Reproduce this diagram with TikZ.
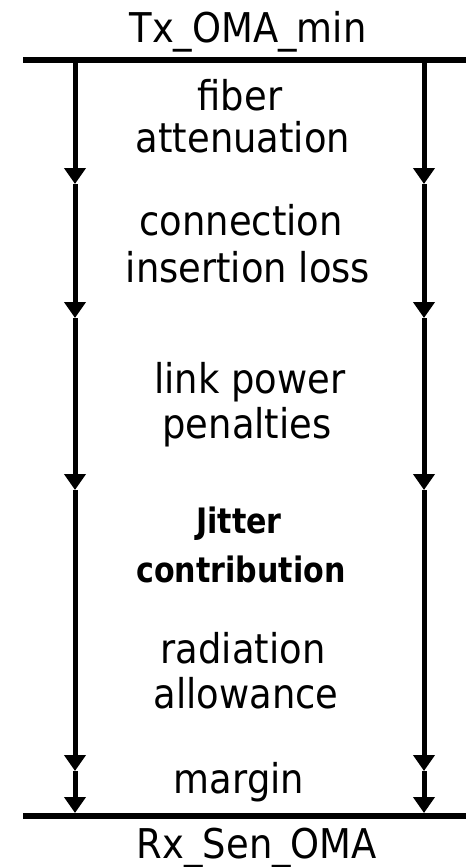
\documentclass[tikz,border=0pt]{standalone}
\usepackage{fontspec}
\setmainfont[FakeStretch=0.9]{DejaVu Sans}
\newfontfamily\jitterfont[FakeStretch=0.86]{DejaVu Sans}
\usetikzlibrary{arrows.meta}
\tikzset{
  bar/.style={line width=5.5pt},
  chain/.style={line width=5pt,-{Triangle[width=21pt,length=16pt]}},
  lbl/.style={anchor=base,inner sep=0pt,font=\fontsize{41}{45}\selectfont},
  jlbl/.style={anchor=base,inner sep=0pt,font=\jitterfont\bfseries\fontsize{35}{40}\selectfont},
}
\begin{document}
\begin{tikzpicture}[x=1pt,y=-1pt]
\useasboundingbox (0,0) rectangle (466,867);
% horizontal bars
\coordinate (TL) at (23,60);  \coordinate (TR) at (466,60);
\coordinate (BL) at (23,816); \coordinate (BR) at (466,816);
\draw[bar] (TL) -- (TR);
\draw[bar] (BL) -- (BR);
% chain points
\foreach \s/\x in {L/75,R/424}{
  \coordinate (\s0) at (\x,60);
  \coordinate (\s1) at (\x,184);
  \coordinate (\s2) at (\x,318);
  \coordinate (\s3) at (\x,490);
  \coordinate (\s4) at (\x,771);
  \coordinate (\s5) at (\x,813);
}
\foreach \s in {L,R}{
  \draw[chain] (\s0) -- (\s1);
  \draw[chain] (\s1) -- (\s2);
  \draw[chain] (\s2) -- (\s3);
  \draw[chain] (\s3) -- (\s4);
  \draw[chain] (\s4) -- (\s5);
}
% labels
\node[lbl] (tx) at (248,43) {Tx\_OMA\_min};
\node[lbl] (fib1) at (240,110) {fiber};
\node[lbl] (fib2) at (243,152) {attenuation};
\node[lbl] (con1) at (241,235) {connection};
\node[lbl] (con2) at (248,282) {insertion loss};
\node[lbl] (lnk1) at (250,393) {link power};
\node[lbl] (lnk2) at (247,438) {penalties};
\node[jlbl] (jit1) at (239,533) {Jitter};
\node[jlbl] (jit2) at (241,582) {contribution};
\node[lbl] (rad1) at (243,663) {radiation};
\node[lbl] (rad2) at (246,708) {allowance};
\node[lbl] (mar) at (239,793) {margin};
\node[lbl] (rx) at (257,858) {Rx\_Sen\_OMA};
\end{tikzpicture}
\end{document}
